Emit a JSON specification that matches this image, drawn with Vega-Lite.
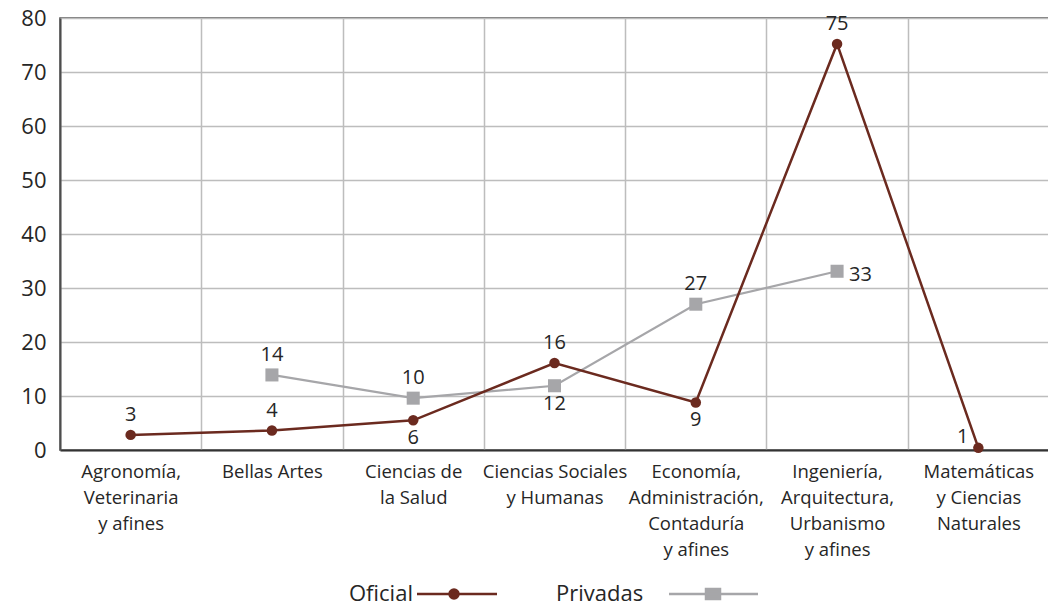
{
  "$schema": "https://vega.github.io/schema/vega-lite/v6.json",
  "width": 989,
  "height": 432,
  "autosize": {"type": "none"},
  "padding": {"left": 60, "top": 18, "right": 0, "bottom": 156},
  "config": {
    "font": "Open Sans",
    "view": {"stroke": "#4d4d4d", "strokeWidth": 1.5}
  },
  "data": {
    "values": [
      {"area": "Agronomía,|Veterinaria|y afines", "serie": "Oficial", "valor": 2.8, "etiqueta": "3"},
      {"area": "Bellas Artes", "serie": "Oficial", "valor": 3.6, "etiqueta": "4"},
      {"area": "Ciencias de|la Salud", "serie": "Oficial", "valor": 5.5, "etiqueta": "6"},
      {"area": "Ciencias Sociales|y Humanas", "serie": "Oficial", "valor": 16.1, "etiqueta": "16"},
      {"area": "Economía,|Administración,|Contaduría|y afines", "serie": "Oficial", "valor": 8.8, "etiqueta": "9"},
      {"area": "Ingeniería,|Arquitectura,|Urbanismo|y afines", "serie": "Oficial", "valor": 75.2, "etiqueta": "75"},
      {"area": "Matemáticas|y Ciencias|Naturales", "serie": "Oficial", "valor": 0.4, "etiqueta": "1"},
      {"area": "Bellas Artes", "serie": "Privadas", "valor": 13.9, "etiqueta": "14"},
      {"area": "Ciencias de|la Salud", "serie": "Privadas", "valor": 9.6, "etiqueta": "10"},
      {"area": "Ciencias Sociales|y Humanas", "serie": "Privadas", "valor": 11.9, "etiqueta": "12"},
      {"area": "Economía,|Administración,|Contaduría|y afines", "serie": "Privadas", "valor": 27.0, "etiqueta": "27"},
      {"area": "Ingeniería,|Arquitectura,|Urbanismo|y afines", "serie": "Privadas", "valor": 33.1, "etiqueta": "33"}
    ]
  },
  "encoding": {
    "x": {
      "field": "area",
      "type": "nominal",
      "sort": [
        "Agronomía,|Veterinaria|y afines",
        "Bellas Artes",
        "Ciencias de|la Salud",
        "Ciencias Sociales|y Humanas",
        "Economía,|Administración,|Contaduría|y afines",
        "Ingeniería,|Arquitectura,|Urbanismo|y afines",
        "Matemáticas|y Ciencias|Naturales"
      ],
      "scale": {"type": "band", "paddingInner": 0, "paddingOuter": 0},
      "axis": {
        "title": null,
        "labelAngle": 0,
        "tickBand": "extent",
        "grid": true,
        "gridColor": "#bdbdbd",
        "gridWidth": 1.5,
        "ticks": false,
        "domainColor": "#333333",
        "domainWidth": 2,
        "labelFontSize": 18.5,
        "labelColor": "#262626",
        "labelLineHeight": 26,
        "labelPadding": 12,
        "labelBaseline": "top",
        "labelLimit": 0,
        "labelExpr": "split(datum.label, '|')"
      }
    },
    "y": {
      "field": "valor",
      "type": "quantitative",
      "scale": {"domain": [0, 80], "nice": false},
      "axis": {
        "title": null,
        "values": [0, 10, 20, 30, 40, 50, 60, 70, 80],
        "grid": true,
        "gridColor": "#bdbdbd",
        "gridWidth": 1.5,
        "ticks": false,
        "domainColor": "#4d4d4d",
        "domainWidth": 2,
        "labelFontSize": 22,
        "labelColor": "#262626",
        "labelPadding": 14
      }
    },
    "color": {
      "field": "serie",
      "type": "nominal",
      "scale": {"domain": ["Oficial", "Privadas"], "range": ["#6b2a1f", "#a6a6a9"]},
      "legend": {
        "title": null,
        "orient": "none",
        "legendX": 267,
        "legendY": 565,
        "direction": "horizontal",
        "symbolSize": 4,
        "symbolStrokeWidth": 2.5,
        "labelAlign": "left",
        "labelOffset": 0,
        "labelFontSize": 22,
        "labelLimit": 0,
        "labelColor": "#262626",
        "columnPadding": 32,
        "encode": {
          "symbols": {
            "update": {
              "shape": {"signal": "datum.value === 'Oficial' ? 'M79,0H159M120.5,0A4.5,4.5 0 1,1 111.5,0A4.5,4.5 0 1,1 120.5,0Z' : 'M124,0H213M161,-5H175V5H161Z'"},
              "fill": {"signal": "datum.value === 'Oficial' ? '#6b2a1f' : '#a6a6a9'"},
              "stroke": {"signal": "datum.value === 'Oficial' ? '#6b2a1f' : '#a6a6a9'"},
              "opacity": {"value": 1},
              "fillOpacity": {"value": 1}
            }
          }
        }
      }
    }
  },
  "layer": [
    {
      "transform": [{"filter": "datum.serie === 'Privadas'"}],
      "mark": {"type": "line", "strokeWidth": 2.2}
    },
    {
      "transform": [{"filter": "datum.serie === 'Privadas'"}],
      "mark": {"type": "square", "size": 170, "opacity": 1}
    },
    {
      "transform": [{"filter": "datum.serie === 'Oficial'"}],
      "mark": {"type": "line", "strokeWidth": 2.5}
    },
    {
      "transform": [{"filter": "datum.serie === 'Oficial'"}],
      "mark": {"type": "point", "shape": "circle", "filled": true, "size": 110, "opacity": 1}
    },
    {
      "transform": [{"filter": "(datum.serie === 'Oficial' && indexof(['Agronomía,|Veterinaria|y afines','Bellas Artes','Ciencias Sociales|y Humanas','Ingeniería,|Arquitectura,|Urbanismo|y afines'], datum.area) >= 0) || (datum.serie === 'Privadas' && indexof(['Bellas Artes','Ciencias de|la Salud','Economía,|Administración,|Contaduría|y afines'], datum.area) >= 0)"}],
      "mark": {"type": "text", "dy": -20, "fontSize": 20},
      "encoding": {"text": {"field": "etiqueta"}, "color": {"value": "#262626"}}
    },
    {
      "transform": [{"filter": "(datum.serie === 'Oficial' && indexof(['Ciencias de|la Salud','Economía,|Administración,|Contaduría|y afines'], datum.area) >= 0) || (datum.serie === 'Privadas' && datum.area === 'Ciencias Sociales|y Humanas')"}],
      "mark": {"type": "text", "dy": 18, "fontSize": 20},
      "encoding": {"text": {"field": "etiqueta"}, "color": {"value": "#262626"}}
    },
    {
      "transform": [{"filter": "datum.serie === 'Privadas' && datum.area === 'Ingeniería,|Arquitectura,|Urbanismo|y afines'"}],
      "mark": {"type": "text", "dx": 12, "dy": 4, "align": "left", "fontSize": 20},
      "encoding": {"text": {"field": "etiqueta"}, "color": {"value": "#262626"}}
    },
    {
      "transform": [{"filter": "datum.serie === 'Oficial' && datum.area === 'Matemáticas|y Ciencias|Naturales'"}],
      "mark": {"type": "text", "dx": -10, "dy": -11, "align": "right", "fontSize": 20},
      "encoding": {"text": {"field": "etiqueta"}, "color": {"value": "#262626"}}
    }
  ]
}
